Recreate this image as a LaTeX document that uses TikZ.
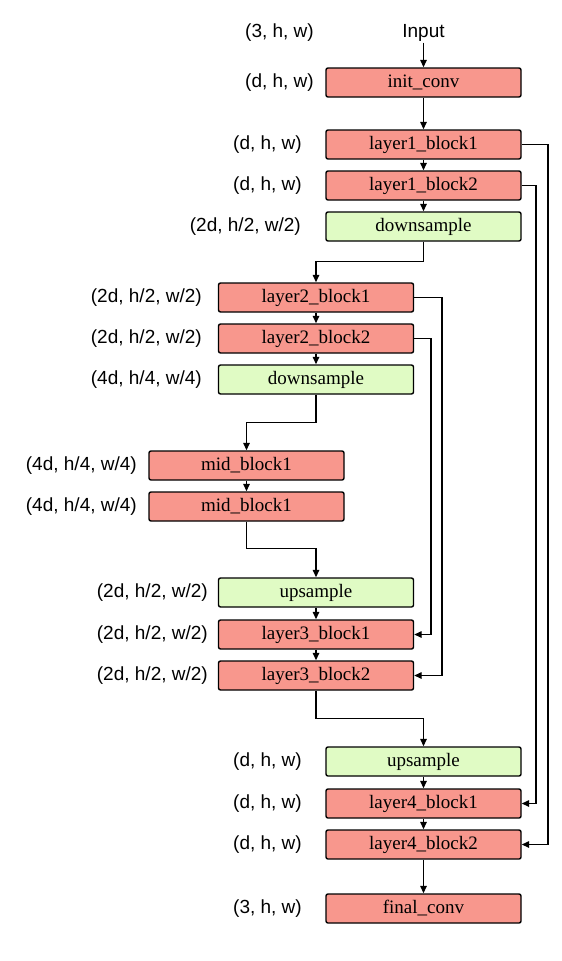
\documentclass[tikz,border=0pt]{standalone}
\usepackage{fontspec}
\setmainfont{Liberation Serif}
\newfontfamily\labfont{Liberation Sans}
\usetikzlibrary{arrows.meta}
\definecolor{blockred}{RGB}{248,151,141}
\definecolor{blockgreen}{RGB}{224,251,196}
\tikzset{
  blk/.style={draw=black, line width=1.4pt, rounded corners=2pt, minimum width=195pt, minimum height=29pt, inner sep=0pt, font=\fontsize{19}{20}\selectfont},
  redblk/.style={blk, fill=blockred},
  greenblk/.style={blk, fill=blockgreen},
  dimlab/.style={anchor=east, inner sep=0pt, font=\labfont\fontsize{19}{20}\selectfont},
  conn/.style={line width=1.4pt, -{Triangle[length=7.5pt,width=6.5pt]}},
}
\begin{document}
\begin{tikzpicture}[x=1pt,y=-1pt]
\useasboundingbox (0,0) rectangle (562,961);
% column A (x 423.5), B (316), C (246.5)
\node[inner sep=1pt, font=\labfont\fontsize{19}{20}\selectfont] (input) at (423.5,33) {Input};
\node[redblk] (init) at (423.5,82.5) {init\_conv};
\node[redblk] (l1b1) at (423.5,144.5) {layer1\_block1};
\node[redblk] (l1b2) at (423.5,185.5) {layer1\_block2};
\node[greenblk] (ds1) at (423.5,226.5) {downsample};
\node[redblk] (l2b1) at (316,297.5) {layer2\_block1};
\node[redblk] (l2b2) at (316,338.5) {layer2\_block2};
\node[greenblk] (ds2) at (316,379.5) {downsample};
\node[redblk] (m1) at (246.5,465.5) {mid\_block1};
\node[redblk] (m2) at (246.5,506.5) {mid\_block1};
\node[greenblk] (us1) at (316,592.5) {upsample};
\node[redblk] (l3b1) at (316,634.5) {layer3\_block1};
\node[redblk] (l3b2) at (316,675.5) {layer3\_block2};
\node[greenblk] (us2) at (423.5,761.5) {upsample};
\node[redblk] (l4b1) at (423.5,803.5) {layer4\_block1};
\node[redblk] (l4b2) at (423.5,844.5) {layer4\_block2};
\node[redblk] (fin) at (423.5,908.5) {final\_conv};
% dimension labels
\node[dimlab] (t0) at (314,33) {(3, h, w)};
\node[dimlab] (t1) at (314,82.5) {(d, h, w)};
\node[dimlab] (t2) at (302,144.5) {(d, h, w)};
\node[dimlab] (t3) at (302,185.5) {(d, h, w)};
\node[dimlab] (t4) at (301,226.5) {(2d, h/2, w/2)};
\node[dimlab] (t5) at (202,297.5) {(2d, h/2, w/2)};
\node[dimlab] (t6) at (202,338.5) {(2d, h/2, w/2)};
\node[dimlab] (t7) at (202,379.5) {(4d, h/4, w/4)};
\node[dimlab] (t8) at (137,465.5) {(4d, h/4, w/4)};
\node[dimlab] (t9) at (137,506.5) {(4d, h/4, w/4)};
\node[dimlab] (t10) at (208,592.5) {(2d, h/2, w/2)};
\node[dimlab] (t11) at (208,634.5) {(2d, h/2, w/2)};
\node[dimlab] (t12) at (208,675.5) {(2d, h/2, w/2)};
\node[dimlab] (t13) at (302,761.5) {(d, h, w)};
\node[dimlab] (t14) at (302,803.5) {(d, h, w)};
\node[dimlab] (t15) at (302,844.5) {(d, h, w)};
\node[dimlab] (t16) at (302,908.5) {(3, h, w)};
% main flow
\draw[conn] (input) -- (init);
\draw[conn] (init) -- (l1b1);
\draw[conn] (l1b1) -- (l1b2);
\draw[conn] (l1b2) -- (ds1);
\draw[conn] (ds1.south) -- ++(0,20) -| (l2b1.north);
\draw[conn] (l2b1) -- (l2b2);
\draw[conn] (l2b2) -- (ds2);
\draw[conn] (ds2.south) -- ++(0,28) -| (m1.north);
\draw[conn] (m1) -- (m2);
\draw[conn] (m2.south) -- ++(0,27) -| (us1.north);
\draw[conn] (us1) -- (l3b1);
\draw[conn] (l3b1) -- (l3b2);
\draw[conn] (l3b2.south) -- ++(0,28) -| (us2.north);
\draw[conn] (us2) -- (l4b1);
\draw[conn] (l4b1) -- (l4b2);
\draw[conn] (l4b2) -- (fin);
% skip connections
\draw[conn] (l1b1.east) -- (548,144.5) |- (l4b2.east);
\draw[conn] (l1b2.east) -- (536,185.5) |- (l4b1.east);
\draw[conn] (l2b1.east) -- (442,297.5) |- (l3b2.east);
\draw[conn] (l2b2.east) -- (431,338.5) |- (l3b1.east);
\end{tikzpicture}
\end{document}
